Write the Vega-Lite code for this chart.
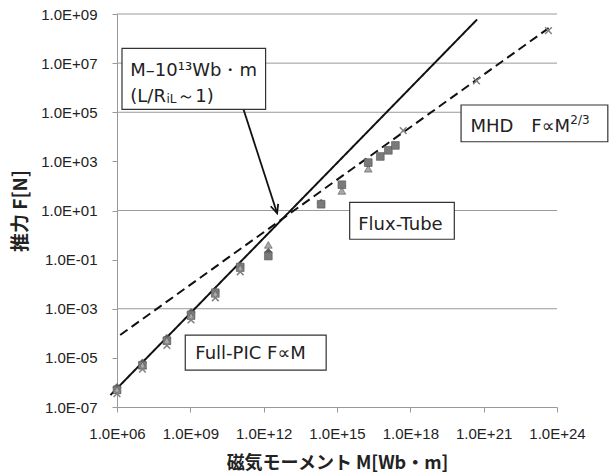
{
  "$schema": "https://vega.github.io/schema/vega-lite/v6.json",
  "autosize": {"type": "none"},
  "padding": {"left": 117, "top": 14, "right": 53, "bottom": 67},
  "width": 440,
  "height": 393,
  "background": "white",
  "config": {"view": {"stroke": null}, "font": "Liberation Sans"},
  "datasets": {
    "pts": [
      {"M": 1e6, "F": 6.3e-7, "s": "diamond"},
      {"M": 1.1e7, "F": 6.3e-6, "s": "diamond"},
      {"M": 1.1e8, "F": 6.3e-5, "s": "diamond"},
      {"M": 1.07e9, "F": 7.1e-4, "s": "diamond"},
      {"M": 1.05e10, "F": 5.0e-3, "s": "diamond"},
      {"M": 1.1e11, "F": 5.6e-2, "s": "diamond"},
      {"M": 1.55e12, "F": 0.2, "s": "diamond"},
      {"M": 2.24e14, "F": 20, "s": "diamond"},
      {"M": 1.58e15, "F": 100, "s": "diamond"},
      {"M": 1.9e16, "F": 794, "s": "diamond"},
      {"M": 1e6, "F": 5.0e-7, "s": "square"},
      {"M": 1.1e7, "F": 5.0e-6, "s": "square"},
      {"M": 1.1e8, "F": 5.0e-5, "s": "square"},
      {"M": 1.07e9, "F": 5.6e-4, "s": "square"},
      {"M": 1.05e10, "F": 4.5e-3, "s": "square"},
      {"M": 1.1e11, "F": 5.0e-2, "s": "square"},
      {"M": 1.55e12, "F": 0.14, "s": "square"},
      {"M": 2.24e14, "F": 18, "s": "square"},
      {"M": 1.58e15, "F": 112, "s": "square"},
      {"M": 1.9e16, "F": 891, "s": "square"},
      {"M": 5.9e16, "F": 1585, "s": "square"},
      {"M": 1.26e17, "F": 2818, "s": "square"},
      {"M": 2.45e17, "F": 4467, "s": "square"},
      {"M": 1e6, "F": 5.0e-7, "s": "triangle"},
      {"M": 1.1e7, "F": 5.0e-6, "s": "triangle"},
      {"M": 1.1e8, "F": 5.0e-5, "s": "triangle"},
      {"M": 1.07e9, "F": 5.0e-4, "s": "triangle"},
      {"M": 1.05e10, "F": 4.0e-3, "s": "triangle"},
      {"M": 1.1e11, "F": 4.5e-2, "s": "triangle"},
      {"M": 1.55e12, "F": 0.4, "s": "triangle"},
      {"M": 1.58e15, "F": 63, "s": "triangle"},
      {"M": 1.9e16, "F": 501, "s": "triangle"},
      {"M": 1e6, "F": 3.5e-7, "s": "cross"},
      {"M": 1.1e7, "F": 3.5e-6, "s": "cross"},
      {"M": 1.1e8, "F": 3.2e-5, "s": "cross"},
      {"M": 1.07e9, "F": 3.5e-4, "s": "cross"},
      {"M": 1.05e10, "F": 2.8e-3, "s": "cross"},
      {"M": 1.1e11, "F": 3.2e-2, "s": "cross"},
      {"M": 5.1e17, "F": 17800, "s": "cross"},
      {"M": 5.1e20, "F": 1.9e6, "s": "cross"},
      {"M": 4.47e23, "F": 2.1e8, "s": "cross"}
    ]
  },
  "encoding": {
    "x": {
      "field": "M", "type": "quantitative",
      "scale": {"type": "log", "domain": [1e6, 1e24], "nice": false},
      "axis": {
        "values": [1e6, 1e9, 1e12, 1e15, 1e18, 1e21, 1e24],
        "labelExpr": "'1.0E' + (datum.value >= 1 ? '+' : '-') + (abs(round(log(datum.value)/LN10)) < 10 ? '0' : '') + abs(round(log(datum.value)/LN10))",
        "grid": false, "tickSize": 5, "labelPadding": 14, "labelFlush": false, "labelOverlap": false, "labelBound": false,
        "domainColor": "#999", "tickColor": "#999", "labelColor": "#222", "labelFontSize": 15, "labelFont": "Liberation Sans",
        "title": "磁気モーメント M[Wb・m]", "titleFont": "Noto Sans CJK JP", "titleFontSize": 18, "titleFontWeight": "bold", "titleColor": "#222",
        "titleY": 56, "titleBaseline": "middle"
      }
    },
    "y": {
      "field": "F", "type": "quantitative",
      "scale": {"type": "log", "domain": [1e-7, 1e9], "nice": false},
      "axis": {
        "values": [1e-7, 1e-5, 1e-3, 1e-1, 1e1, 1e3, 1e5, 1e7, 1e9],
        "labelExpr": "'1.0E' + (datum.value >= 1 ? '+' : '-') + (abs(round(log(datum.value)/LN10)) < 10 ? '0' : '') + abs(round(log(datum.value)/LN10))",
        "grid": false, "tickSize": 5, "labelPadding": 15, "labelFlush": false, "labelOverlap": false, "labelBound": false,
        "domainColor": "#999", "tickColor": "#999", "labelColor": "#222", "labelFontSize": 15, "labelFont": "Liberation Sans",
        "title": "推力 F[N]", "titleFont": "Noto Sans CJK JP", "titleFontSize": 19, "titleFontWeight": "bold", "titleColor": "#222",
        "titleX": -97, "titleBaseline": "middle"
      }
    }
  },
  "layer": [
    {
      "data": {"values": [
        {"M": 1e6, "M2": 1e24, "F": 1e9},
        {"M": 1e6, "M2": 1e24, "F": 1e7},
        {"M": 1e6, "M2": 1e24, "F": 1e5},
        {"M": 1e6, "M2": 1e24, "F": 1e1},
        {"M": 1e6, "M2": 1e24, "F": 1e-3}
      ]},
      "mark": {"type": "rule", "color": "#9a9a9a", "strokeWidth": 1},
      "encoding": {"x2": {"field": "M2"}}
    },
    {
      "data": {"values": [
        {"M": 5.4e5, "F": 3.05e-7, "k": "solid"},
        {"M": 5.4e20, "F": 6.0e8, "k": "solid"},
        {"M": 1.35e6, "F": 8.5e-5, "k": "dashed"},
        {"M": 5.4e23, "F": 3.0e8, "k": "dashed"}
      ]},
      "mark": {"type": "line", "color": "#111", "strokeWidth": 2, "clip": false},
      "encoding": {
        "detail": {"field": "k"},
        "strokeDash": {"field": "k", "type": "nominal", "scale": {"domain": ["solid", "dashed"], "range": [[1, 0], [9, 5]]}, "legend": null}
      }
    },
    {
      "data": {"name": "pts"},
      "transform": [{"filter": "datum.s !== 'cross'"}],
      "mark": {"type": "point", "filled": true, "size": 60, "opacity": 1, "stroke": "#555", "strokeWidth": 0.6},
      "encoding": {
        "color": {"field": "s", "type": "nominal", "scale": {"domain": ["diamond", "square", "triangle"], "range": ["#5e5e5e", "#7a7a7a", "#a8a8a8"]}, "legend": null},
        "shape": {"field": "s", "type": "nominal", "scale": {"domain": ["diamond", "square", "triangle"], "range": ["diamond", "square", "triangle-up"]}, "legend": null}
      }
    },
    {
      "data": {"name": "pts"},
      "transform": [{"filter": "datum.s === 'cross'"}],
      "mark": {"type": "point", "filled": false, "shape": "M-1,-1L1,1M-1,1L1,-1", "size": 45, "color": "#808080", "strokeWidth": 1.5, "opacity": 1}
    },
    {
      "data": {"values": [{"M": 1.48e11, "F": 1.35e5, "M2": 3.55e12, "F2": 7.7}]},
      "mark": {"type": "rule", "color": "#111", "strokeWidth": 1.8},
      "encoding": {"x2": {"field": "M2"}, "y2": {"field": "F2"}}
    },
    {
      "data": {"values": [{"M": 3.55e12, "F": 7.7}]},
      "mark": {"type": "point", "filled": false, "shape": "M-0.45,-1L0,0L0.45,-1", "size": 300, "color": "#111", "strokeWidth": 1.8, "angle": -18, "opacity": 1}
    },
    {
      "data": {"values": [
        {"M": 1.6e6, "M2": 1.2e12, "F": 4.0e7, "F2": 1.32e5},
        {"M": 6.2e8, "M2": 3.6e14, "F": 8.5e-5, "F2": 3.2e-6},
        {"M": 3.3e15, "M2": 6.3e19, "F": 21.4, "F2": 0.676},
        {"M": 1.19e20, "M2": 1.2e26, "F": 1.97e5, "F2": 6.3e3}
      ]},
      "mark": {"type": "rect", "fill": "white", "stroke": "#333", "strokeWidth": 1.2, "clip": false},
      "encoding": {"x2": {"field": "M2"}, "y2": {"field": "F2"}}
    },
    {
      "data": {"values": [
        {"M": 3.5e6, "F": 3.0e6, "t": "M–10¹³Wb・m"},
        {"M": 3.5e6, "F": 2.7e5, "t": "(L/R"},
        {"M": 2.95e8, "F": 2.7e5, "t": "～1)"},
        {"M": 1.6e9, "F": 9.0e-6, "t": "Full-PIC F∝M"},
        {"M": 7.4e15, "F": 1.6, "t": "Flux-Tube"},
        {"M": 2.86e20, "F": 1.6e4, "t": "MHD　F∝M"}
      ]},
      "mark": {"type": "text", "align": "left", "baseline": "alphabetic", "fontSize": 18, "font": "DejaVu Sans", "color": "#222", "clip": false},
      "encoding": {"text": {"field": "t"}}
    },
    {
      "data": {"values": [
        {"M": 1.05e8, "F": 2.4e5, "t": "iL"},
        {"M": 3.5e24, "F": 3.3e4, "t": "2/3"}
      ]},
      "mark": {"type": "text", "align": "left", "baseline": "alphabetic", "fontSize": 12, "font": "DejaVu Sans", "color": "#222", "clip": false},
      "encoding": {"text": {"field": "t"}}
    }
  ]
}
